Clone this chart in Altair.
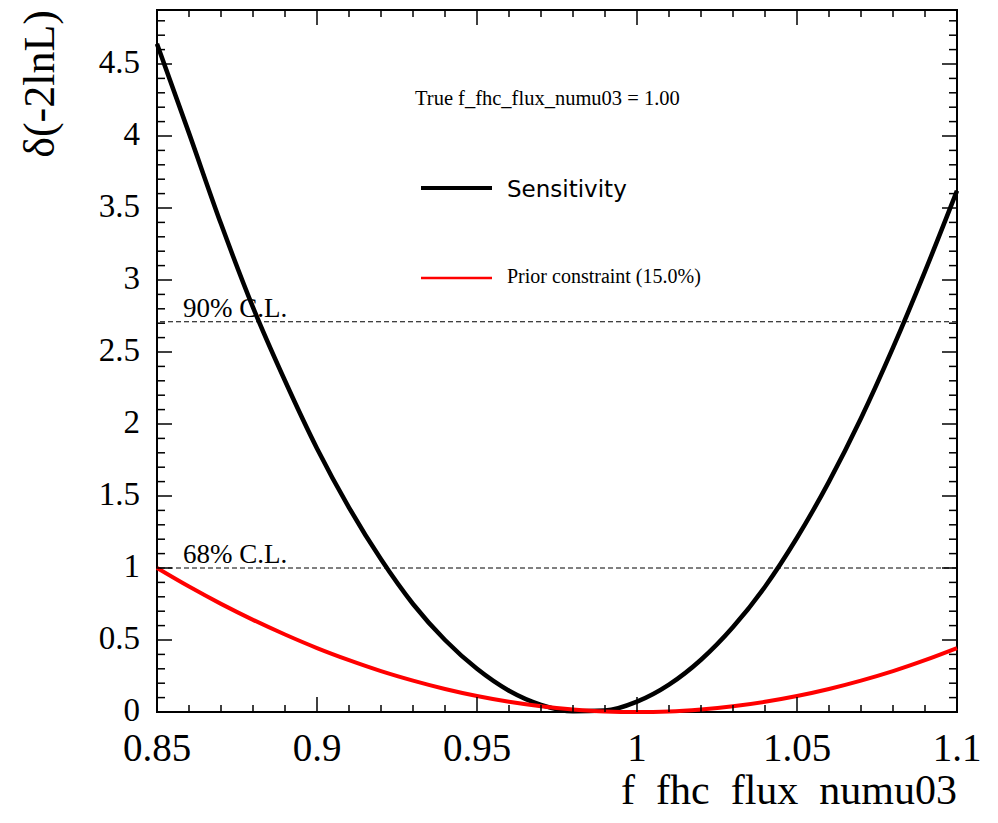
import altair as alt
import pandas as pd
import numpy as np

# ---- data ----
x_vals = [0.85, 0.86, 0.87, 0.88, 0.89, 0.90, 0.91, 0.92, 0.93, 0.94, 0.95, 0.96, 0.97,
          0.98, 0.99, 1.00, 1.01, 1.02, 1.03, 1.04, 1.05, 1.06, 1.07, 1.08, 1.09, 1.10]
sensitivity = [4.64, 4.02, 3.39, 2.81, 2.30, 1.83, 1.42, 1.06, 0.75, 0.50, 0.30, 0.148, 0.05,
               0.005, 0.010, 0.072, 0.19, 0.363, 0.59, 0.87, 1.21, 1.60, 2.04, 2.53, 3.06, 3.62]
prior = [1.00, 0.871, 0.751, 0.640, 0.538, 0.444, 0.360, 0.284, 0.218, 0.160, 0.111, 0.071, 0.040,
         0.018, 0.004, 0.0, 0.004, 0.018, 0.040, 0.071, 0.111, 0.160, 0.218, 0.284, 0.360, 0.444]

cl_levels = [1.0, 2.71]
cl_labels = ["68% C.L.", "90% C.L."]
legend_labels = ["Sensitivity", "Prior constraint (15.0%)"]
info_text = "True f_fhc_flux_numu03 = 1.00"
x_title = "f\u00a0\u00a0fhc\u00a0\u00a0flux\u00a0\u00a0numu03"
y_title = "\u03b4(-2lnL)"

x_major = [0.85, 0.9, 0.95, 1.0, 1.05, 1.1]
x_major_labels = ["0.85", "0.9", "0.95", "1", "1.05", "1.1"]
y_major = [0, 0.5, 1, 1.5, 2, 2.5, 3, 3.5, 4, 4.5]
y_major_labels = ["0", "0.5", "1", "1.5", "2", "2.5", "3", "3.5", "4", "4.5"]
x_minor = [v for v in np.round(np.arange(0.86, 1.1, 0.01), 3).tolist()
           if not any(abs(v - m) < 1e-6 for m in x_major)]
y_minor = [v for v in np.round(np.arange(0.1, 4.85, 0.1), 2).tolist()
           if not any(abs(v - m) < 1e-6 for m in y_major)]

W, H = 800, 702
df = pd.DataFrame({"x": x_vals, "sens": sensitivity, "prior": prior})
xscale = alt.Scale(domain=[0.85, 1.1], nice=False, zero=False)
yscale = alt.Scale(domain=[0, 4.875], nice=False, zero=False)
SERIF = "Liberation Serif"

sens = alt.Chart(df).mark_line(color="black", strokeWidth=4.5, interpolate="monotone").encode(
    x=alt.X("x:Q", scale=xscale, axis=None),
    y=alt.Y("sens:Q", scale=yscale, axis=None),
)
prior_line = alt.Chart(df).mark_line(color="#ff0000", strokeWidth=4, interpolate="monotone").encode(
    x=alt.X("x:Q", scale=xscale, axis=None),
    y=alt.Y("prior:Q", scale=yscale, axis=None),
)

cl_df = pd.DataFrame({"level": cl_levels, "label": cl_labels})
cl_rules = alt.Chart(cl_df).mark_rule(color="black", strokeWidth=1, strokeDash=[5, 3]).encode(
    y=alt.Y("level:Q", scale=yscale, axis=None))
cl_text = alt.Chart(cl_df).mark_text(align="left", baseline="alphabetic", font=SERIF,
                                     fontSize=27, dy=-5, color="black").encode(
    y=alt.Y("level:Q", scale=yscale, axis=None), x=alt.value(26), text="label:N")

def tick_layer(vals, orient, length):
    d = pd.DataFrame({"v": vals})
    m = alt.Chart(d).mark_rule(color="black", strokeWidth=1.5)
    if orient == "left":
        return m.encode(y=alt.Y("v:Q", scale=yscale, axis=None), x=alt.value(0), x2=alt.value(length))
    if orient == "right":
        return m.encode(y=alt.Y("v:Q", scale=yscale, axis=None), x=alt.value(W), x2=alt.value(W - length))
    if orient == "bottom":
        return m.encode(x=alt.X("v:Q", scale=xscale, axis=None), y=alt.value(H), y2=alt.value(H - length))
    return m.encode(x=alt.X("v:Q", scale=xscale, axis=None), y=alt.value(0), y2=alt.value(length))

ticks = [
    tick_layer(y_major, "left", 15), tick_layer(y_minor, "left", 8),
    tick_layer(y_major, "right", 15), tick_layer(y_minor, "right", 8),
    tick_layer(x_major, "bottom", 15), tick_layer(x_minor, "bottom", 7),
    tick_layer(x_major, "top", 15), tick_layer(x_minor, "top", 7),
]

# tick labels
ylab_df = pd.DataFrame({"v": y_major, "t": y_major_labels})
ylabels = alt.Chart(ylab_df).mark_text(align="right", baseline="middle", font=SERIF,
                                       fontSize=33, color="black", dy=-1).encode(
    y=alt.Y("v:Q", scale=yscale, axis=None), x=alt.value(-17), text="t:N")
xlab_df = pd.DataFrame({"v": x_major, "t": x_major_labels})
xlabels = alt.Chart(xlab_df).mark_text(align="center", baseline="top", font=SERIF,
                                       fontSize=39, color="black").encode(
    x=alt.X("v:Q", scale=xscale, axis=None), y=alt.value(H + 18), text="t:N")

one = pd.DataFrame({"a": [0]})
xtitle = alt.Chart(one).mark_text(text=x_title, align="right", baseline="alphabetic", font=SERIF,
                                  fontSize=42, color="black").encode(
    x=alt.value(W), y=alt.value(H + 92))
ytitle = alt.Chart(one).mark_text(text=y_title, align="right", baseline="middle", font=SERIF,
                                  fontSize=44, color="black", angle=270).encode(
    x=alt.value(-116), y=alt.value(0))

info = alt.Chart(one).mark_text(text=info_text, align="left", baseline="middle", font=SERIF,
                                fontSize=20.5, color="black").encode(x=alt.value(258), y=alt.value(89))
leg_line1 = alt.Chart(one).mark_rule(color="black", strokeWidth=4).encode(
    x=alt.value(264), x2=alt.value(335), y=alt.value(178))
leg_text1 = alt.Chart(one).mark_text(text=legend_labels[0], align="left", baseline="middle",
                                     font="DejaVu Sans", fontSize=23, color="black").encode(
    x=alt.value(350), y=alt.value(180))
leg_line2 = alt.Chart(one).mark_rule(color="#ff0000", strokeWidth=2.5).encode(
    x=alt.value(264), x2=alt.value(335), y=alt.value(268))
leg_text2 = alt.Chart(one).mark_text(text=legend_labels[1], align="left", baseline="middle",
                                     font=SERIF, fontSize=20, color="black").encode(
    x=alt.value(350), y=alt.value(267))

chart = alt.layer(
    sens, prior_line, cl_rules, cl_text, *ticks, ylabels, xlabels, xtitle, ytitle,
    info, leg_line1, leg_text1, leg_line2, leg_text2,
).properties(
    width=W, height=H,
    padding={"left": 149, "top": 2, "right": 30, "bottom": 101},
    autosize=alt.AutoSizeParams(type="none"),
    background="white",
).configure_view(stroke="black", strokeWidth=2)

chart.save("out.html", embed_options={"renderer": "svg", "actions": False})
